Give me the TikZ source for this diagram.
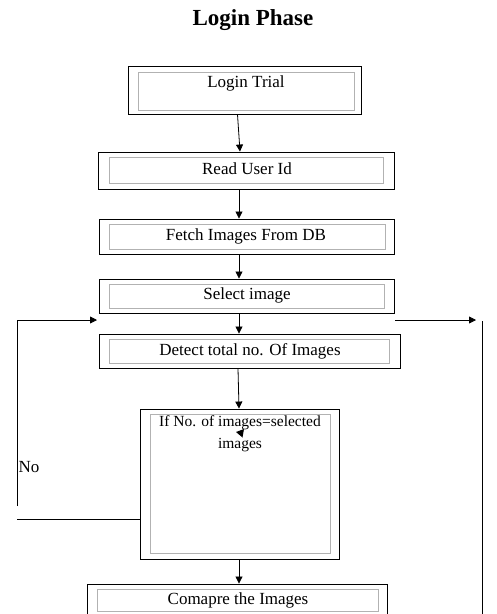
\documentclass[tikz,border=0pt]{standalone}
\usepackage{fontspec}
\setmainfont{Liberation Serif}
\usetikzlibrary{arrows.meta}
\begin{document}
\begin{tikzpicture}[x=1pt,y=-1pt,
  outerbox/.style={draw=black, line width=0.9pt, inner sep=0pt},
  innerbox/.style={draw=black!30, line width=0.8pt},
  lbl/.style={font=\fontsize{17}{22}\selectfont, inner sep=0pt, align=center},
  arr/.style={-{Triangle[length=7pt,width=7pt]}, line width=0.8pt},
  ln/.style={line width=0.8pt}]
\useasboundingbox (0,0) rectangle (497,614);
\clip (0,0) rectangle (497,614);

\node[font=\fontsize{23}{27}\selectfont\bfseries, inner sep=0pt] (title) at (253,20) {Login Phase};

% boxes
\node[outerbox, minimum width=233pt, minimum height=48pt] (login) at (244.5,90) {};
\draw[innerbox] (138,72) rectangle (354,110);
\node[lbl] (loginT) at (246,83) {Login Trial};

\node[outerbox, minimum width=296pt, minimum height=37pt] (read) at (246,170.5) {};
\draw[innerbox] (109,157) rectangle (383,183);
\node[lbl] (readT) at (247,169) {Read User Id};

\node[outerbox, minimum width=295pt, minimum height=35pt] (fetch) at (246.5,236.5) {};
\draw[innerbox] (109,224) rectangle (385,249);
\node[lbl] (fetchT) at (246,236) {Fetch Images From DB};

\node[outerbox, minimum width=295pt, minimum height=34pt] (select) at (246.5,296) {};
\draw[innerbox] (109,284) rectangle (384,308);
\node[lbl] (selectT) at (247,295) {Select image};

\node[outerbox, minimum width=301pt, minimum height=34pt] (detect) at (249.5,351) {};
\draw[innerbox] (109,339) rectangle (389,363);
\node[lbl] (detectT) at (250,351) {Detect total no. Of Images};

\node[outerbox, minimum width=199pt, minimum height=150pt] (decision) at (239.5,484) {};
\draw[innerbox] (150,414) rectangle (330,553);
\node[lbl, font=\fontsize{15.5}{22}\selectfont, anchor=north] (decisionT) at (240,415.5) {If No. of images=selected\\images};

\node[outerbox, minimum width=300pt, minimum height=42pt] (compare) at (237,605) {};
\draw[innerbox] (97,589) rectangle (378,611);
\node[lbl] (compareT) at (238,600) {Comapre the Images};

% vertical flow arrows
\draw[arr] ([xshift=-7pt]login.south) -- ([xshift=-6pt]read.north);
\draw[arr] ([xshift=-7pt]read.south) -- ([xshift=-7pt]read.south |- fetch.north);
\draw[arr] ([xshift=-7.5pt]fetch.south) -- ([xshift=-7.5pt]select.north);
\draw[arr] ([xshift=-7.5pt]select.south) -- ([xshift=-7.5pt]select.south |- detect.north);
\draw[arr] ([xshift=-11.5pt]detect.south) -- ([xshift=-0.5pt]decision.north);
\draw[arr] ([xshift=-0.5pt]decision.south) -- ([xshift=-0.5pt]decision.south |- compare.north);

% left "No" loop
\coordinate (noA) at (17,519);
\coordinate (noB) at (17,506);
\coordinate (loopTop) at (17,320);
\coordinate (loopEnd) at (97,320);
\draw[ln] ([yshift=-35pt]decision.west) -- (noA);
\draw[arr] (noB) -- (loopTop) -- (loopEnd);
\node[lbl] (noT) at (29,467) {No};

% right line
\coordinate (rA) at (395,320);
\coordinate (rB) at (476,320);
\coordinate (rC) at (482,321);
\coordinate (rD) at (482,620);
\draw[arr] (rA) -- (rB);
\draw[ln] (rC) -- (rD);

% stray arrowhead (left-up pointing)
\coordinate (sTip) at (236,432);
\coordinate (sB1) at (244,429);
\coordinate (sB2) at (242.5,437.5);
\fill (sTip) -- (sB1) -- (sB2) -- cycle;
\end{tikzpicture}
\end{document}
